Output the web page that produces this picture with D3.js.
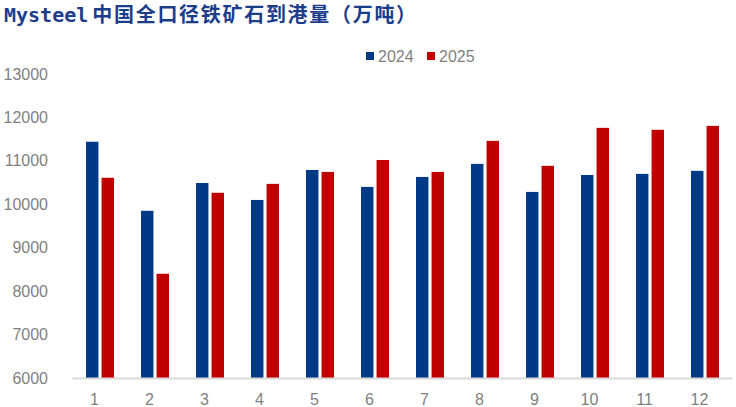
<!DOCTYPE html>
<html>
<head>
<meta charset="utf-8">
<script src="https://cdn.jsdelivr.net/npm/d3@7/dist/d3.min.js"></script>
<style>
html,body{margin:0;padding:0;background:#fff;}
svg{display:block;}
</style>
</head>
<body>
<svg id="chart" width="736" height="407"></svg>
<script>
const categories = ["1","2","3","4","5","6","7","8","9","10","11","12"];
const seriesNames = ["2024","2025"];
const values2024 = [11440, 9850, 10490, 10100, 10790, 10400, 10630, 10930, 10285, 10675, 10700, 10770];
const values2025 = [10610, 8400, 10265, 10470, 10745, 11020, 10745, 11460, 10885, 11760, 11715, 11805];
const yTicks = [6000, 7000, 8000, 9000, 10000, 11000, 12000, 13000];
const colors = ["#003A86", "#C00000"];

(function () {
const svg = d3.select("#chart");
const mLeft = 72, mRight = 732, mTop = 74, mBottom = 378;

const x0 = d3.scaleBand().domain(categories).range([mLeft, mRight]);
const x1 = d3.scaleBand().domain(seriesNames).range([14, 42]).paddingInner(0.2);
const y = d3.scaleLinear().domain([6000, 13000]).range([mBottom, mTop]);

// Title
const title = svg.append("text").attr("x", 4).attr("y", 22)
  .attr("fill", "#1c3c8c").attr("font-weight", "bold");
title.append("tspan").text("Mysteel")
  .attr("font-family", "'DejaVu Sans Mono', monospace").attr("font-size", 20);
title.append("tspan").text("中国全口径铁矿石到港量（万吨）")
  .attr("dx", 4)
  .attr("font-family", "'Noto Sans CJK SC', sans-serif").attr("font-size", 20)
  .attr("letter-spacing", 1.7);

// Y axis labels
const yAxis = d3.axisLeft(y).tickValues(yTicks).tickSize(0).tickPadding(0).tickFormat(d3.format("d"));
const gy = svg.append("g").attr("transform", "translate(48,0)").call(yAxis);
gy.select(".domain").remove();
gy.selectAll("text").attr("font-family", "'Liberation Sans', Arial, sans-serif")
  .attr("font-size", 16).attr("fill", "#7f7f7f");

// Bars
const data = categories.map((c, i) => ({cat: c, vals: [values2024[i], values2025[i]]}));
const groups = svg.append("g").selectAll("g").data(data).join("g")
  .attr("transform", d => `translate(${x0(d.cat)},0)`);
groups.selectAll("rect").data(d => d.vals.map((v, j) => ({s: seriesNames[j], v, j})))
  .join("rect")
  .attr("x", d => x1(d.s))
  .attr("width", x1.bandwidth())
  .attr("y", d => y(d.v))
  .attr("height", d => y(6000) - y(d.v))
  .attr("fill", d => colors[d.j]);

// X axis
const xAxis = d3.axisBottom(x0).tickSize(0).tickPadding(0);
const gx = svg.append("g").attr("transform", `translate(0,${mBottom})`).call(xAxis);
gx.select(".domain").attr("stroke", "#d9d9d9").attr("stroke-width", 2.2);
gx.selectAll("text").attr("font-family", "'Liberation Sans', Arial, sans-serif")
  .attr("font-size", 16).attr("fill", "#7f7f7f").attr("dy", 0).attr("y", 27).attr("x", -5);

// Legend
const legend = svg.append("g");
const legX = [366, 427];
seriesNames.forEach((s, i) => {
  legend.append("rect").attr("x", legX[i]).attr("y", 52).attr("width", 8).attr("height", 8).attr("fill", colors[i]);
  legend.append("text").attr("x", legX[i] + 12).attr("y", 62).text(s)
    .attr("font-family", "'Liberation Sans', Arial, sans-serif").attr("font-size", 16).attr("fill", "#7f7f7f");
});
})();
</script>
</body>
</html>
